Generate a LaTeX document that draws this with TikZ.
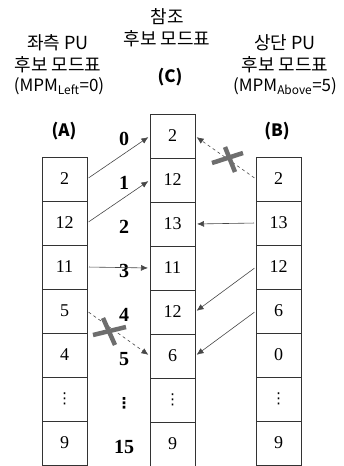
\documentclass[tikz,border=0pt]{standalone}
\usepackage{fontspec}
\setmainfont{Liberation Serif}
\newfontfamily\kr{Noto Sans CJK KR}
\newfontfamily\sym{DejaVu Sans}
\usetikzlibrary{arrows.meta}

\definecolor{linegray}{HTML}{474747}
\definecolor{crossgray}{HTML}{6E6E6E}
\newcommand{\vd}{{\sym\fontsize{15}{15}\selectfont ⋮}}

\begin{document}
\begin{tikzpicture}
  [
    x = 1pt, y = -1pt,
    cell/.style = {draw = black!80, line width = 0.8pt, minimum width = 45pt,
                   minimum height = 44pt, inner sep = 0pt, outer sep = 0pt,
                   font = \fontsize{18}{18}\selectfont},
    rank/.style = {inner sep = 1pt, font = \fontsize{20}{20}\selectfont\bfseries},
    title/.style = {align = center, inner sep = 0pt,
                    font = \kr\fontsize{18}{22}\selectfont},
    mpm/.style = {inner sep = 0pt, font = \kr\fontsize{17}{17}\selectfont},
    tag/.style = {inner sep = 0pt, font = \kr\fontsize{17}{17}\selectfont\bfseries},
    link/.style = {draw = linegray, line width = 0.6pt,
                   -{Latex[length=7pt, width=6pt]}, shorten < = 2pt, shorten > = 2pt},
    cut/.style = {draw = crossgray, line width = 4.5pt}
  ]
  \useasboundingbox (0,0) rectangle (343,466);

  % headers
  \node[title] (Ctitle) at (167,28) {참조\\후보 모드표};
  \node[title] (Atitle) at (58,54) {좌측 PU\\후보 모드표};
  \node[title] (Btitle) at (285,54) {상단 PU\\후보 모드표};
  \node[mpm] (Ampm) at (59,86) {(MPM\textsubscript{Left}=0)};
  \node[mpm] (Bmpm) at (285,86) {(MPM\textsubscript{Above}=5)};
  \node[tag] (Ctag) at (170,77) {(C)};
  \node[tag] (Atag) at (64,131) {(A)};
  \node[tag] (Btag) at (277,131) {(B)};

  % candidate lists
  \foreach \v [count = \i] in {2,12,11,5,4,\vd,9}
    \node[cell] (A\i) at (64.5,135+44*\i) {\v};
  \foreach \v [count = \i from 0] in {2,12,13,11,12,6,\vd,9}
    \node[cell] (C\i) at (172.5,136+44*\i) {\v};
  \foreach \v [count = \i] in {2,13,12,6,0,\vd,9}
    \node[cell] (B\i) at (278.5,135+44*\i) {\v};
  \foreach \v [count = \i from 0] in {0,1,2,3,4,5,\vd,15}
    \node[rank] (L\i) at (124,139+44*\i) {\v};

  % links into the reference list
  \draw[link] (A1.east) -- (C0.west);
  \draw[link] (A2.east) -- (C1.west);
  \draw[link] (A3.east) -- (C3.west);
  \draw[link, dashed] (A4.east) -- (C5.west);
  \draw[link, dashed] (B1.west) -- (C0.east);
  \draw[link] (B2.west) -- (C2.east);
  \draw[link] (B3.west) -- (C4.east);
  \draw[link] (B4.west) -- (C5.east);

  % rejected duplicates
  \draw[cut] (212,163) -- (243,153);
  \draw[cut] (225,147) -- (235,172);
  \draw[cut] (93,335) -- (126,327);
  \draw[cut] (103,318) -- (115,345);
\end{tikzpicture}
\end{document}
